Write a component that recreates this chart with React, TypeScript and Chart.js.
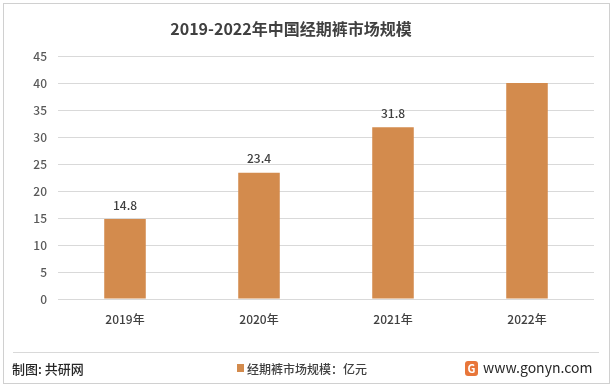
import React, { useEffect, useRef } from "react";
import { Chart, registerables } from "chart.js";

Chart.register(...registerables);

const categories = ["2019年", "2020年", "2021年", "2022年"];
const marketSize = [14.8, 23.4, 31.8, 40];
const shownLabels = ["14.8", "23.4", "31.8", ""];
const titleText = "2019-2022年中国经期裤市场规模";
const seriesName = "经期裤市场规模：亿元";
const sourceText = "制图: 共研网";
const siteText = "www.gonyn.com";

const BAR = "#D38B4D";
const FONT = "'Noto Sans CJK SC', 'Noto Sans', sans-serif";

const decorPlugin = {
  id: "decor",
  beforeDraw(chart: any) {
    const ctx = chart.ctx;
    ctx.save();
    ctx.fillStyle = "#ffffff";
    ctx.fillRect(0, 0, chart.width, chart.height);
    ctx.strokeStyle = "#d0d0d0";
    ctx.lineWidth = 1;
    ctx.strokeRect(3.5, 3.5, 606, 380);
    ctx.restore();
  },
  afterDraw(chart: any) {
    const ctx = chart.ctx;
    ctx.save();
    // title
    ctx.fillStyle = "#404040";
    ctx.font = `bold 16px ${FONT}`;
    ctx.textAlign = "center";
    ctx.textBaseline = "middle";
    ctx.fillText(titleText, 291, 29);
    // data labels
    const meta = chart.getDatasetMeta(0);
    ctx.font = `500 12px ${FONT}`;
    ctx.fillStyle = "#404040";
    meta.data.forEach((el: any, i: number) => {
      if (shownLabels[i]) ctx.fillText(shownLabels[i], el.x, el.y - 14);
    });
    // separator
    ctx.strokeStyle = "#d9d9d9";
    ctx.lineWidth = 1;
    ctx.beginPath();
    ctx.moveTo(13, 352.5);
    ctx.lineTo(599, 352.5);
    ctx.stroke();
    // footer
    ctx.textAlign = "left";
    ctx.fillStyle = "#262626";
    ctx.font = `500 13px ${FONT}`;
    ctx.fillText(sourceText, 12, 369);
    ctx.fillStyle = BAR;
    ctx.fillRect(237, 364, 7, 8);
    ctx.fillStyle = "#404040";
    ctx.font = `500 12px ${FONT}`;
    ctx.fillText(seriesName, 247, 369);
    // logo
    ctx.fillStyle = "#E8763A";
    ctx.beginPath();
    (ctx as any).roundRect(465, 361, 13, 15, 3);
    ctx.fill();
    ctx.fillStyle = "#ffffff";
    ctx.font = `bold 11px ${FONT}`;
    ctx.textAlign = "center";
    ctx.fillText("G", 471.5, 369);
    ctx.textAlign = "left";
    ctx.fillStyle = "#262626";
    ctx.font = `14px ${FONT}`;
    ctx.fillText(siteText, 483, 368);
    ctx.restore();
  },
};

export default function App() {
  const ref = useRef<HTMLCanvasElement>(null);
  useEffect(() => {
    if (!ref.current) return;
    const chart = new Chart(ref.current, {
      type: "bar",
      data: {
        labels: categories,
        datasets: [
          {
            label: seriesName,
            data: marketSize,
            backgroundColor: BAR,
            barPercentage: 0.62,
            categoryPercentage: 0.5,
          },
        ],
      },
      options: {
        responsive: false,
        animation: false,
        layout: { padding: { top: 56, right: 19, left: 0, bottom: 0 } },
        plugins: {
          legend: { display: false },
          title: { display: false },
          tooltip: { enabled: false },
        },
        scales: {
          x: {
            grid: { display: false },
            border: { display: false },
            ticks: {
              color: "#404040",
              font: { family: FONT, size: 12, weight: "500" },
              padding: 5,
              maxRotation: 0,
            },
            afterFit: (s: any) => {
              s.height = 90;
            },
          },
          y: {
            min: 0,
            max: 45,
            grid: { color: "#d9d9d9", drawTicks: false },
            border: { display: false },
            ticks: {
              stepSize: 5,
              color: "#595959",
              font: { family: FONT, size: 12, weight: "500" },
              padding: 11,
            },
            afterFit: (s: any) => {
              s.width = 58;
            },
          },
        },
      },
      plugins: [decorPlugin],
    });
    return () => chart.destroy();
  }, []);
  return (
    <div style={{ position: "absolute", left: 0, top: 0, width: 613, height: 389 }}>
      <canvas ref={ref} width={613} height={389} style={{ width: 613, height: 389 }} />
    </div>
  );
}
